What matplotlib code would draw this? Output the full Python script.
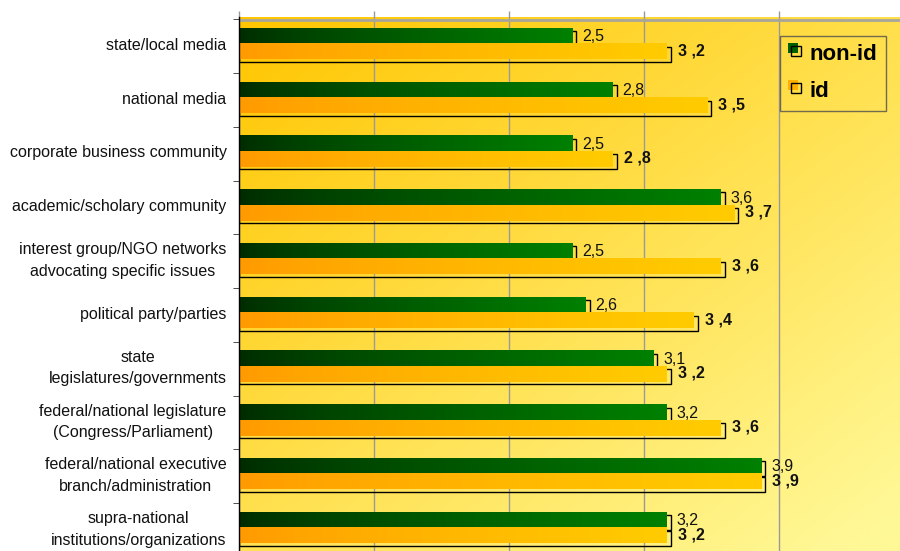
import numpy as np
import matplotlib
matplotlib.use("Agg")
import matplotlib.pyplot as plt
from matplotlib.patches import Rectangle
from matplotlib.legend_handler import HandlerBase
from matplotlib.colors import to_rgb
from matplotlib.transforms import ScaledTranslation

plt.rcParams['font.family'] = ['Liberation Sans', 'DejaVu Sans']

categories = [
    "state/local media",
    "national media",
    "corporate business community",
    "academic/scholary community",
    "interest group/NGO networks\nadvocating specific issues",
    "political party/parties",
    "state\nlegislatures/governments",
    "federal/national legislature\n(Congress/Parliament)",
    "federal/national executive\nbranch/administration",
    "supra-national\ninstitutions/organizations",
]
non_id = [2.5, 2.8, 2.5, 3.6, 2.5, 2.6, 3.1, 3.2, 3.9, 3.2]
id_vals = [3.2, 3.5, 2.8, 3.7, 3.6, 3.4, 3.2, 3.6, 3.9, 3.2]
series_names = ["non-id", "id"]

W, H = 900, 551
fig = plt.figure(figsize=(9, 5.51), dpi=100)
fig.patch.set_facecolor('white')
ax = fig.add_axes([239 / W, (551 - 557) / H, (900 - 239) / W, 540 / H])

XMAX = (900 - 239) / 134.9
PX_X = 134.9   # px per x unit
PX_Y = 54.0    # px per category

# background gradient (diagonal)
ny, nx = 60, 120
xx, yy = np.meshgrid(np.linspace(0, 1, nx), np.linspace(0, 1, ny))
t = np.clip(0.5 * xx + 0.55 * yy, 0, 1)
c0 = np.array([255, 198, 0]) / 255
c1 = np.array([255, 248, 150]) / 255
bg = c0[None, None, :] * (1 - t[..., None]) + c1[None, None, :] * t[..., None]
ax.imshow(bg, extent=(0, XMAX, len(categories) - 0.5, -0.5), aspect='auto',
          interpolation='bilinear', zorder=0)


def grad_bar(x0, x1, y0, y1, ca, cb, z):
    n = 256
    s = np.linspace(0, 1, n) ** 0.75
    a, b = np.array(to_rgb(ca)), np.array(to_rgb(cb))
    g = a[None, :] * (1 - s[:, None]) + b[None, :] * s[:, None]
    ax.imshow(g[None, :, :], extent=(x0, x1, y1, y0), aspect='auto',
              interpolation='bilinear', zorder=z)


dx = 4.0 / PX_X
dy = 2.5 / PX_Y
h = 0.28
for i, (a, b) in enumerate(zip(non_id, id_vals)):
    # green (non-id)
    gy0 = i - 0.235
    ax.add_patch(Rectangle((0, gy0), a, h, fill=False, ec='black', lw=1, zorder=3))
    grad_bar(-0.01, a - dx, gy0 - dy, gy0 - dy + h, '#002a00', '#008000', 4)
    # orange (id)
    oy0 = i + 0.055
    ax.add_patch(Rectangle((0, oy0), b, h, fill=False, ec='black', lw=1, zorder=3))
    grad_bar(-0.01, b - dx, oy0 - dy, oy0 - dy + h, '#ff9900', '#ffcc00', 4)
    # labels
    ax.text(a + 6 / PX_X, i - 0.13, f"{a:.1f}".replace('.', ','), fontsize=11.5,
            va='center', ha='left', color='#111111', zorder=6)
    ax.text(b + 7 / PX_X, i + 0.13, f"{b:.1f}".replace('.', ' ,'), fontsize=11.5,
            fontweight='bold', va='center', ha='left', color='#111111', zorder=6)

ax.set_xlim(0, XMAX)
ax.set_ylim(len(categories) - 0.5, -0.5)

# grid and ticks
ax.xaxis.tick_top()
ax.set_xticks([0, 1, 2, 3, 4])
ax.tick_params(axis='x', which='major', length=4, color='#999999', labeltop=False,
               labelbottom=False, width=1)
ax.grid(axis='x', color='#9a9a9a', lw=1, zorder=1)
ax.set_axisbelow(True)
ax.set_yticks(range(len(categories)))
ax.set_yticklabels(categories, fontsize=11.5, linespacing=1.55, multialignment='center',
                   color='#111111')
ax.tick_params(axis='y', which='major', length=0, pad=9)
for lab in ax.get_yticklabels():
    if '\n' in lab.get_text():
        lab.set_transform(lab.get_transform() + ScaledTranslation(0, 3 / 100, fig.dpi_scale_trans))
ax.set_yticks(np.arange(-0.5, len(categories), 1.0) + 2.5 / PX_Y, minor=True)
ax.tick_params(axis='y', which='minor', length=4, color='#333333', direction='out')
for sp in ['top', 'right', 'bottom']:
    ax.spines[sp].set_visible(False)
ax.spines['left'].set_color('black')
ax.spines['left'].set_linewidth(1)
ax.spines['left'].set_zorder(5)
ax.axhline(-0.5 + 3 / PX_Y, color='#a8a59a', lw=2, zorder=2)


class GradHandler(HandlerBase):
    def __init__(self, color):
        super().__init__()
        self.color = color

    def create_artists(self, legend, orig_handle, xdescent, ydescent, width, height,
                       fontsize, trans):
        s = width * 0.8
        fill = Rectangle((-xdescent, -ydescent + height - s + 2.0), s, s,
                         facecolor=self.color, edgecolor='none', transform=trans)
        out = Rectangle((-xdescent + width - s, -ydescent + height - s), s, s,
                        facecolor='none', edgecolor='black', lw=1, transform=trans)
        return [fill, out]


h1 = Rectangle((0, 0), 1, 1)
h2 = Rectangle((0, 0), 1, 1)
leg = ax.legend([h1, h2], series_names,
                handler_map={h1: GradHandler('#006000'), h2: GradHandler('#ffb000')},
                loc='upper left', bbox_to_anchor=(780 / W, 1 - 36 / H),
                bbox_transform=fig.transFigure, frameon=True, fancybox=False,
                prop={'weight': 'bold', 'size': 16}, handlelength=0.55, handleheight=0.55,
                handletextpad=0.4, labelspacing=0.72, borderpad=0.38, borderaxespad=0)
leg.get_frame().set_facecolor('none')
leg.get_frame().set_edgecolor('#4d4d4d')
leg.get_frame().set_linewidth(1)
leg.set_zorder(7)

fig.savefig('out.png', dpi=100)
